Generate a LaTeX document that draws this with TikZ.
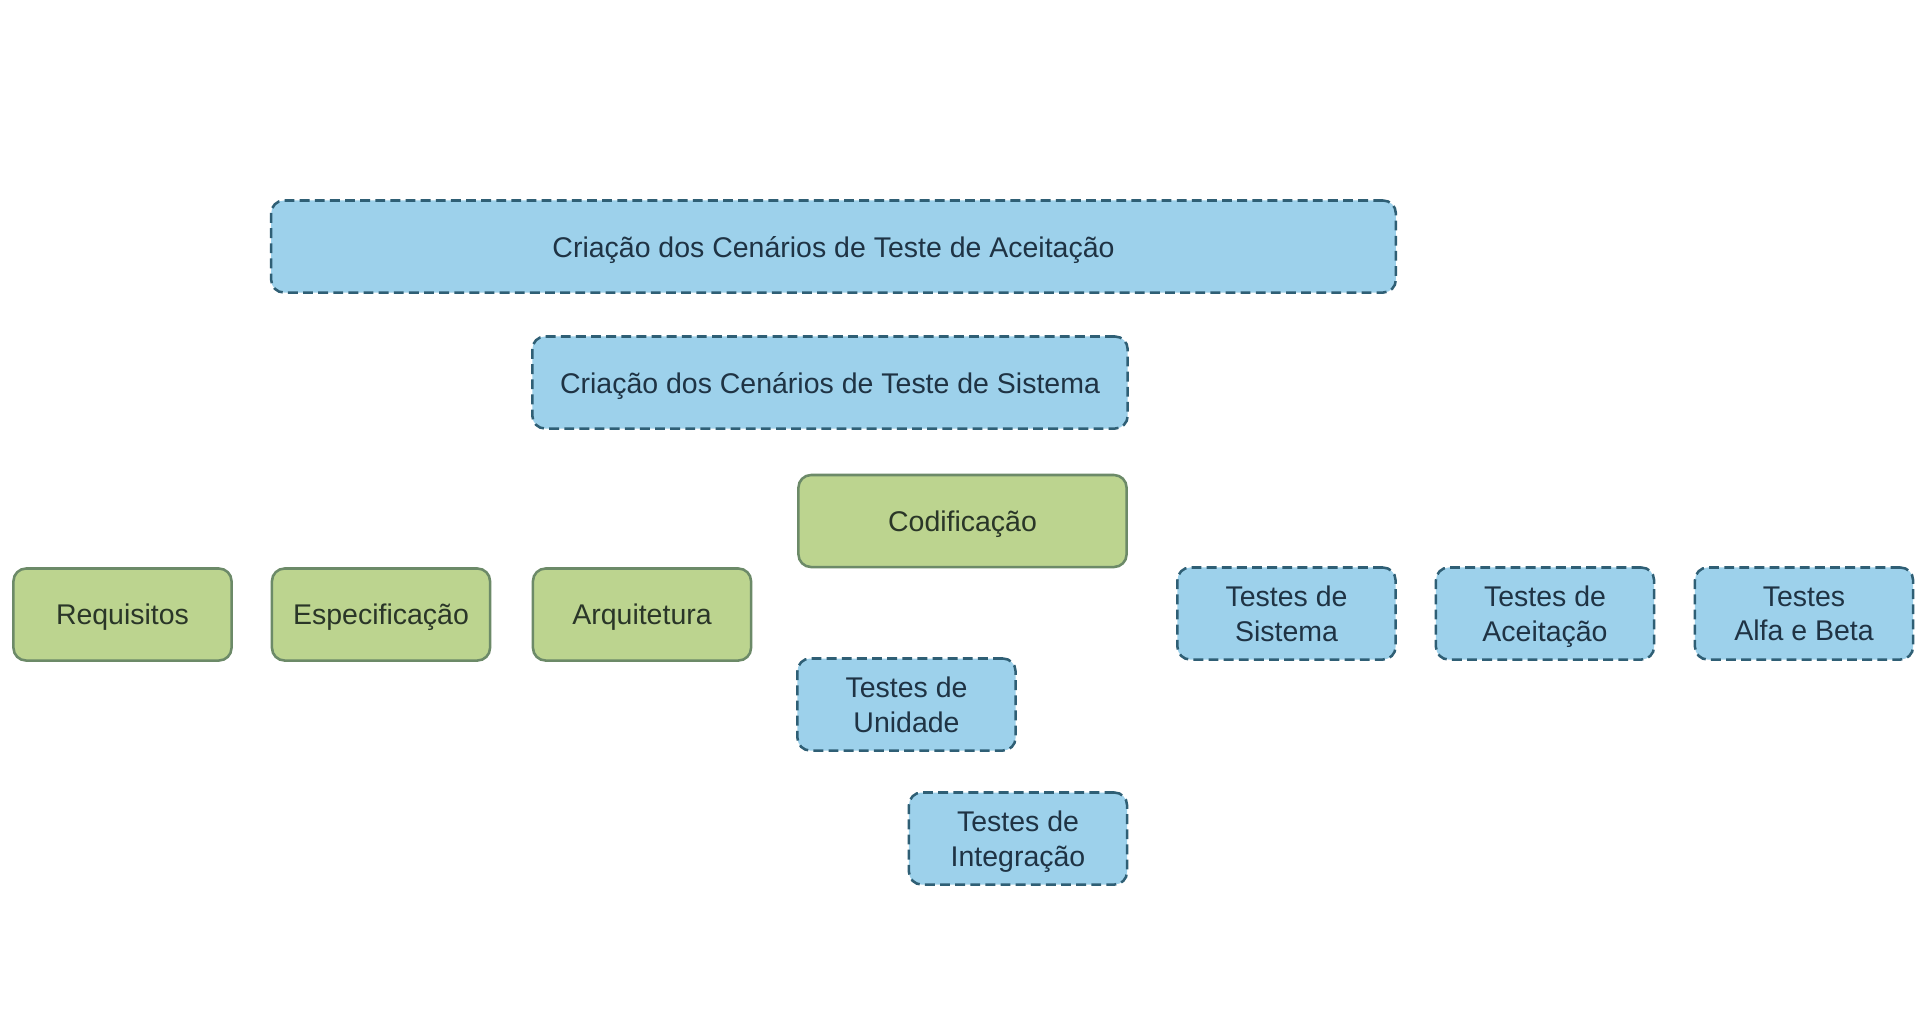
\documentclass[tikz,border=0pt]{standalone}
\usepackage{fontspec}
\setmainfont{Liberation Sans}
\usetikzlibrary{positioning}
\definecolor{verdeFill}{HTML}{BCD48F}
\definecolor{verdeBorda}{HTML}{6C8A68}
\definecolor{azulFill}{HTML}{9DD1EB}
\definecolor{azulBorda}{HTML}{2F5F75}
\definecolor{textoVerde}{HTML}{2A3628}
\definecolor{textoAzul}{HTML}{1F3344}

\tikzset{
  caixa/.style={rounded corners=3.6pt, line width=0.72pt, inner sep=0pt,
    minimum height=0.92cm, align=center, text depth=0pt,
    font=\fontsize{8.1}{9.8}\selectfont},
  fase/.style={caixa, draw=verdeBorda, fill=verdeFill, text=textoVerde},
  teste/.style={caixa, draw=azulBorda, fill=azulFill, text=textoAzul,
    dash pattern=on 2.8pt off 1.5pt},
}

\begin{document}
\begin{tikzpicture}[x=0.01cm,y=-0.01cm]
  \fill[white] (0,0) rectangle (1922,1032);
  \useasboundingbox (0,0) rectangle (1922,1032);

  % cenarios
  \node[teste, minimum width=11.24cm] (cenAceit) at (833.5,246.5) {Criação dos Cenários de Teste de Aceitação};
  \node[teste, minimum width=5.95cm] (cenSist) at (830,382.5) {Criação dos Cenários de Teste de Sistema};

  % fases
  \node[fase, minimum width=3.28cm] (codif) at (962.5,521) {Codificação};
  \node[fase, minimum width=2.18cm] (req) at (122.5,614.5) {Requisitos};
  \node[fase, minimum width=2.18cm] (espec) at (381,614.5) {Especificação};
  \node[fase, minimum width=2.18cm] (arq) at (642,614.5) {Arquitetura};

  % testes
  \node[teste, minimum width=2.18cm] (tSist) at (1286.5,613.5) {Testes de\\Sistema};
  \node[teste, minimum width=2.18cm] (tAceit) at (1545,613.5) {Testes de\\Aceitação};
  \node[teste, minimum width=2.18cm] (tAlfa) at (1804,613.5) {Testes\\Alfa e Beta};
  \node[teste, minimum width=2.18cm] (tUnid) at (906.5,704.5) {Testes de\\Unidade};
  \node[teste, minimum width=2.18cm] (tInteg) at (1018,838.5) {Testes de\\Integração};
\end{tikzpicture}
\end{document}
